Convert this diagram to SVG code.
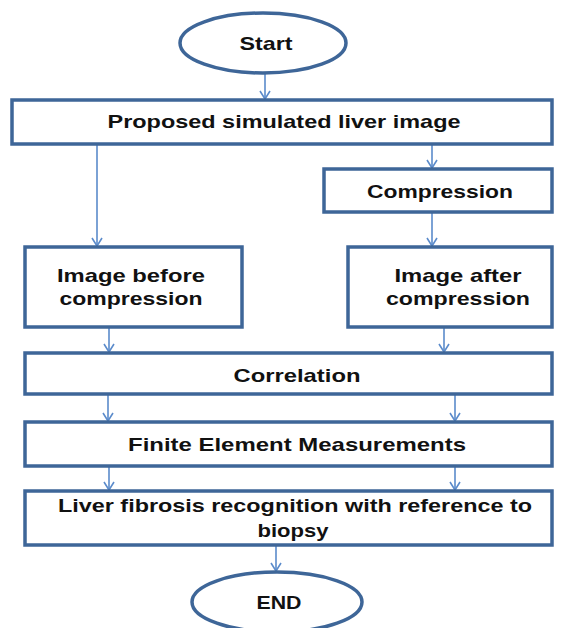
<svg xmlns="http://www.w3.org/2000/svg" width="562" height="628" viewBox="0 0 562 628">
<style>
.box{fill:#fff;stroke:#3E6698;stroke-width:3.5}
.t{font-family:"Liberation Sans",Arial,sans-serif;font-weight:bold;font-size:19px;fill:#111;text-anchor:middle}
.c{stroke:#5B8BCB;stroke-width:1.6;fill:none}
</style>
<defs>
<marker id="ah" markerUnits="userSpaceOnUse" markerWidth="14" markerHeight="14" refX="9" refY="6" orient="auto">
<path d="M1,1 L9,6 L1,11" fill="none" stroke="#5B8BCB" stroke-width="1.6"/>
</marker>
</defs>
<g id="connectors">
<line class="c" x1="265" y1="73" x2="265" y2="99" marker-end="url(#ah)"/>
<line class="c" x1="97" y1="145" x2="97" y2="246" marker-end="url(#ah)"/>
<line class="c" x1="432" y1="145" x2="432" y2="168" marker-end="url(#ah)"/>
<line class="c" x1="432" y1="213" x2="432" y2="246" marker-end="url(#ah)"/>
<line class="c" x1="109" y1="328" x2="109" y2="352" marker-end="url(#ah)"/>
<line class="c" x1="444" y1="328" x2="444" y2="352" marker-end="url(#ah)"/>
<line class="c" x1="108" y1="395" x2="108" y2="421" marker-end="url(#ah)"/>
<line class="c" x1="455" y1="395" x2="455" y2="421" marker-end="url(#ah)"/>
<line class="c" x1="109" y1="467" x2="109" y2="490" marker-end="url(#ah)"/>
<line class="c" x1="455" y1="467" x2="455" y2="490" marker-end="url(#ah)"/>
<line class="c" x1="276" y1="546" x2="276" y2="571" marker-end="url(#ah)"/>
</g>
<g id="start">
<ellipse class="box" cx="263" cy="43" rx="83" ry="30"/>
<text class="t" x="266" y="50" textLength="53" lengthAdjust="spacingAndGlyphs">Start</text>
</g>
<g id="proposed">
<rect class="box" x="12" y="100" width="540" height="44"/>
<text class="t" x="284" y="128" textLength="353" lengthAdjust="spacingAndGlyphs">Proposed simulated liver image</text>
</g>
<g id="compression">
<rect class="box" x="324" y="169" width="228" height="43"/>
<text class="t" x="440" y="198" textLength="146" lengthAdjust="spacingAndGlyphs">Compression</text>
</g>
<g id="before">
<rect class="box" x="25" y="247" width="217" height="80"/>
<text class="t" x="131" y="282" textLength="148" lengthAdjust="spacingAndGlyphs">Image before</text>
<text class="t" x="131" y="305" textLength="143" lengthAdjust="spacingAndGlyphs">compression</text>
</g>
<g id="after">
<rect class="box" x="348" y="247" width="204" height="80"/>
<text class="t" x="458" y="282" textLength="127" lengthAdjust="spacingAndGlyphs">Image after</text>
<text class="t" x="458" y="305" textLength="144" lengthAdjust="spacingAndGlyphs">compression</text>
</g>
<g id="correlation">
<rect class="box" x="25" y="353" width="527" height="41"/>
<text class="t" x="297" y="382" textLength="127" lengthAdjust="spacingAndGlyphs">Correlation</text>
</g>
<g id="finite">
<rect class="box" x="25" y="422" width="527" height="44"/>
<text class="t" x="297" y="451" textLength="338" lengthAdjust="spacingAndGlyphs">Finite Element Measurements</text>
</g>
<g id="liver">
<rect class="box" x="25" y="491" width="527" height="54"/>
<text class="t" x="295" y="512" textLength="474" lengthAdjust="spacingAndGlyphs">Liver fibrosis recognition with reference to</text>
<text class="t" x="293" y="537" textLength="71" lengthAdjust="spacingAndGlyphs">biopsy</text>
</g>
<g id="end">
<ellipse class="box" cx="277" cy="602" rx="85" ry="30"/>
<text class="t" x="279" y="609" textLength="45" lengthAdjust="spacingAndGlyphs">END</text>
</g>
</svg>
